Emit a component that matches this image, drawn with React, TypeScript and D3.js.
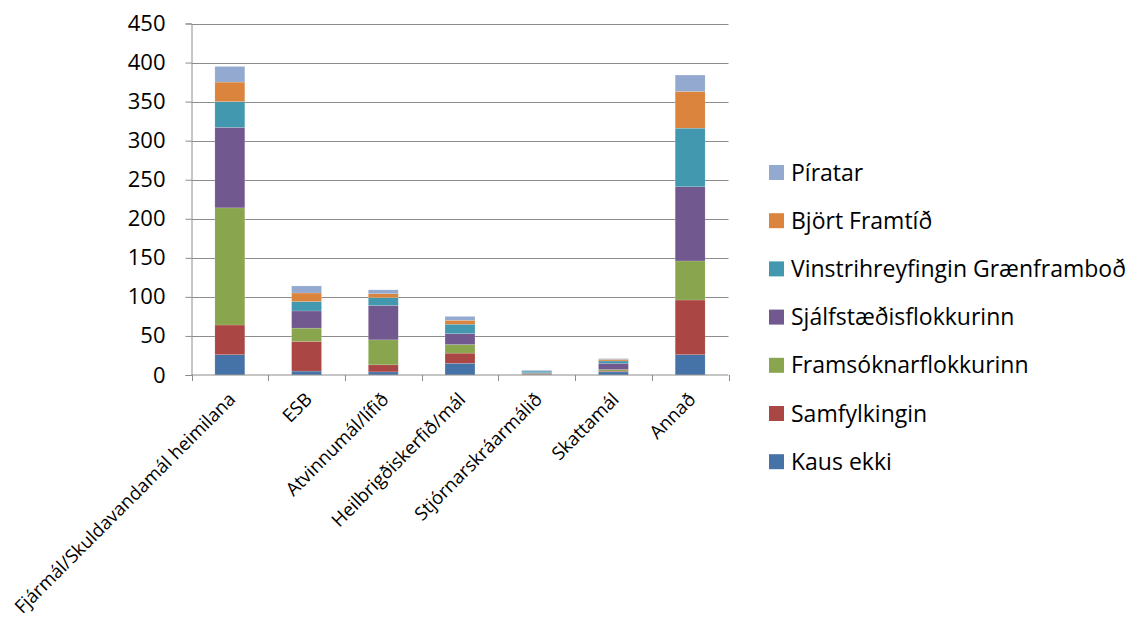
import React, { useEffect, useRef } from 'react';
import * as d3 from 'd3';

// Flokkar (x-ás)
const categories = [
  'Fjármál/Skuldavandamál heimilana',
  'ESB',
  'Atvinnumál/lífið',
  'Heilbrigðiskerfið/mál',
  'Stjórnarskráarmálið',
  'Skattamál',
  'Annað',
];

// Röð í stafla, neðst fyrst
const seriesNames = [
  'Kaus ekki',
  'Samfylkingin',
  'Framsóknarflokkurinn',
  'Sjálfstæðisflokkurinn',
  'Vinstrihreyfingin Grænframboð',
  'Björt Framtíð',
  'Píratar',
];

const kausEkki = [26, 5, 4, 15, 0, 4, 26];
const samfylkingin = [38, 38, 9, 13, 1, 1, 70];
const framsokn = [150, 17, 32, 11, 1, 2, 50];
const sjalfstaedis = [103, 22, 44, 14, 1, 8, 95];
const vinstri = [33, 12, 10, 12, 2, 3, 75];
const bjort = [25, 11, 5, 5, 0, 2, 47];
const piratar = [20, 9, 5, 5, 1, 1, 21];

const seriesValues = [kausEkki, samfylkingin, framsokn, sjalfstaedis, vinstri, bjort, piratar];

const colors = ['#4572A7', '#AA4643', '#89A54E', '#71588F', '#4198AF', '#DB843D', '#93A9CF'];

const yTicks = [0, 50, 100, 150, 200, 250, 300, 350, 400, 450];

const App: React.FC = () => {
  const ref = useRef<SVGSVGElement>(null);

  useEffect(() => {
    const svg = d3.select(ref.current);
    svg.selectAll('*').remove();

    const width = 1144;
    const height = 617;
    const left = 191.5;
    const right = 728.5;
    const top = 23.5;
    const bottom = 375;
    const font = "'Open Sans', 'Noto Sans', sans-serif";

    svg.attr('width', width).attr('height', height);

    const x = d3.scaleBand().domain(categories).range([left, right]).padding(0);
    const y = d3.scaleLinear().domain([0, 450]).range([bottom, top]);

    // Rist
    svg
      .append('g')
      .selectAll('line')
      .data(yTicks.filter((t) => t > 0))
      .enter()
      .append('line')
      .attr('x1', left)
      .attr('x2', right)
      .attr('y1', (d) => Math.round(y(d)) + 0.5)
      .attr('y2', (d) => Math.round(y(d)) + 0.5)
      .attr('stroke', '#8c8c8c')
      .attr('stroke-width', 1);

    // Staflar
    const table = categories.map((c, i) => {
      const row: Record<string, number | string> = { cat: c };
      seriesNames.forEach((s, j) => (row[s] = seriesValues[j][i]));
      return row;
    });
    const stacked = d3.stack<Record<string, number | string>>().keys(seriesNames)(table);
    const barW = x.bandwidth() * 0.39;

    svg
      .append('g')
      .selectAll('g')
      .data(stacked)
      .enter()
      .append('g')
      .attr('fill', (_d, i) => colors[i])
      .selectAll('rect')
      .data((d) => d)
      .enter()
      .append('rect')
      .attr('x', (d) => (x(d.data.cat as string) || 0) + (x.bandwidth() - barW) / 2)
      .attr('y', (d) => y(d[1]))
      .attr('height', (d) => Math.max(0, y(d[0]) - y(d[1])))
      .attr('width', barW)
      .attr('stroke', 'rgba(255,255,255,0.3)')
      .attr('stroke-width', 0.5);

    // y-ás
    const yAxis = svg
      .append('g')
      .attr('transform', `translate(${left},0)`)
      .call(d3.axisLeft(y).tickValues(yTicks).tickSize(6).tickPadding(20));
    yAxis.select('.domain').attr('stroke', '#8c8c8c');
    yAxis.selectAll('line').attr('stroke', '#8c8c8c');
    yAxis
      .selectAll('text')
      .style('font-family', font)
      .style('font-size', '22px')
      .attr('fill', '#000');

    // x-ás
    const xAxis = svg.append('g').attr('transform', `translate(0,${bottom})`);
    xAxis
      .append('line')
      .attr('x1', left)
      .attr('x2', right)
      .attr('stroke', '#8c8c8c');
    xAxis
      .selectAll('.tk')
      .data(d3.range(categories.length + 1))
      .enter()
      .append('line')
      .attr('x1', (i) => Math.round(left + i * x.step()) + 0.5)
      .attr('x2', (i) => Math.round(left + i * x.step()) + 0.5)
      .attr('y1', 0)
      .attr('y2', 6)
      .attr('stroke', '#8c8c8c');
    xAxis
      .selectAll('text')
      .data(categories)
      .enter()
      .append('text')
      .attr('transform', (d) => `translate(${(x(d) || 0) + x.bandwidth() / 2 + 2},${21}) rotate(-45)`)
      .attr('text-anchor', 'end')
      .attr('dy', '0.35em')
      .style('font-family', font)
      .style('font-size', '18.5px')
      .text((d) => d);

    // Skýringar
    const legend = svg
      .append('g')
      .selectAll('g')
      .data(seriesNames.map((s, i) => ({ s, i })).reverse())
      .enter()
      .append('g')
      .attr('transform', (_d, k) => `translate(769,${172.5 + k * 48.2})`);
    legend
      .append('rect')
      .attr('x', 0)
      .attr('y', -7.5)
      .attr('width', 15)
      .attr('height', 15)
      .attr('fill', (d) => colors[d.i]);
    legend
      .append('text')
      .attr('x', 22)
      .attr('dy', '0.35em')
      .style('font-family', font)
      .style('font-size', '23px')
      .text((d) => d.s);
  }, []);

  return <svg ref={ref} style={{ position: 'absolute', left: 0, top: 0 }}></svg>;
};

export default App;
